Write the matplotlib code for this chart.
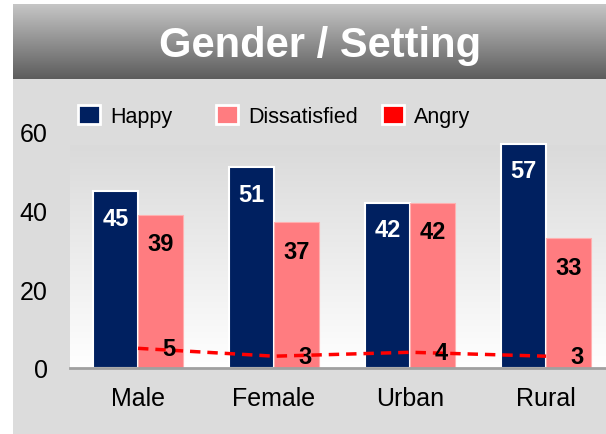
import matplotlib as mpl
mpl.use('Agg')
import matplotlib.pyplot as plt
from matplotlib.patches import Patch, Rectangle
import numpy as np

plt.rcParams['font.family'] = ['Liberation Sans', 'DejaVu Sans']

categories = ["Male", "Female", "Urban", "Rural"]
happy = [45, 51, 42, 57]
dissatisfied = [39, 37, 42, 33]
angry = [5, 3, 4, 3]

navy = "#002060"
pink = "#ff7c80"
red = "#ff0000"

fig = plt.figure(figsize=(6.06, 4.35), dpi=100, facecolor="white")

# grey panel behind everything
fig.patches.append(Rectangle((13 / 606, 0), 1, 1 - 5 / 435, transform=fig.transFigure,
                             facecolor="#dcdcdc", edgecolor="none", zorder=-10))

# title band with vertical gradient
tax = fig.add_axes([13 / 606, 1 - 80 / 435, 1 - 13 / 606, 75 / 435])
grad = np.linspace(0, 1, 256).reshape(-1, 1)
tax.imshow(grad, aspect="auto", cmap=mpl.colors.LinearSegmentedColormap.from_list(
    "band", ["#c6c6c6", "#5c5c5c"]), extent=[0, 1, 0, 1], origin="upper")
tax.set_axis_off()
tax.text(0.518, 0.45, "Gender / Setting", color="white", fontsize=30, fontweight="bold",
         ha="center", va="center", transform=tax.transAxes)

ax = fig.add_axes([70 / 606, 1 - 369 / 435, 1 - 70 / 606, 236 / 435])
ax.set_facecolor("none")
x = np.arange(len(categories))
w = 0.33

ax.set_xlim(-0.5, 3.44)
ax.set_ylim(0, 60)

# plot-area gradient (grey at top, white at bottom)
ax.imshow(grad, aspect="auto", cmap=mpl.colors.LinearSegmentedColormap.from_list(
    "bg", ["#dadada", "#ffffff"]), extent=[-0.5, 3.44, 0, 56.5], origin="upper", zorder=0)

hb = ax.bar(x - w / 2, happy, w, color=navy, edgecolor="white", linewidth=1.5, zorder=2)
db = ax.bar(x + w / 2, dissatisfied, w, color=pink, edgecolor="#ffb0b0", linewidth=0.8, zorder=2)
ax.plot(x, angry, color=red, linestyle=(0, (3, 2)), linewidth=2.5, zorder=3)

for xi, v in zip(x, happy):
    ax.annotate(str(v), (xi - w / 2, v), xytext=(0, -27), textcoords="offset pixels",
                ha="center", va="center", color="white", fontsize=17, fontweight="bold", zorder=4)
for xi, v in zip(x, dissatisfied):
    ax.annotate(str(v), (xi + w / 2, v), xytext=(0, -29), textcoords="offset pixels",
                ha="center", va="center", color="black", fontsize=17, fontweight="bold", zorder=4)
for xi, v in zip(x, angry):
    ax.text(xi + 0.23, v, str(v), ha="center", va="center", color="black",
            fontsize=17, fontweight="bold", zorder=4)

ax.set_xticks(x)
ax.set_xticklabels(categories, fontsize=18)
ax.set_yticks([0, 20, 40, 60])
ax.set_yticklabels(["0", "20", "40", "60"], fontsize=18)
ax.tick_params(length=0)
ax.tick_params(axis="x", pad=13)
ax.tick_params(axis="y", pad=16)
for s in ["top", "right", "left"]:
    ax.spines[s].set_visible(False)
ax.spines["bottom"].set_color("#a0a0a0")
ax.spines["bottom"].set_linewidth(2)
ax.spines["bottom"].set_zorder(5)

# legend: one entry per legend so that spacing matches the original
handles = [Patch(facecolor=navy, edgecolor="white", linewidth=2, label="Happy"),
           Patch(facecolor=pink, edgecolor="white", linewidth=2, label="Dissatisfied"),
           Patch(facecolor=red, edgecolor="white", linewidth=2, label="Angry")]
for h, lx in zip(handles, [78, 216, 382]):
    fig.legend(handles=[h], loc="center left", bbox_to_anchor=(lx / 606, 1 - 117 / 435),
               frameon=False, fontsize=15.5, handlelength=1.0, handleheight=1.0,
               handletextpad=0.5, borderaxespad=0, borderpad=0)

fig.savefig("out.png", dpi=100, facecolor=fig.get_facecolor())
